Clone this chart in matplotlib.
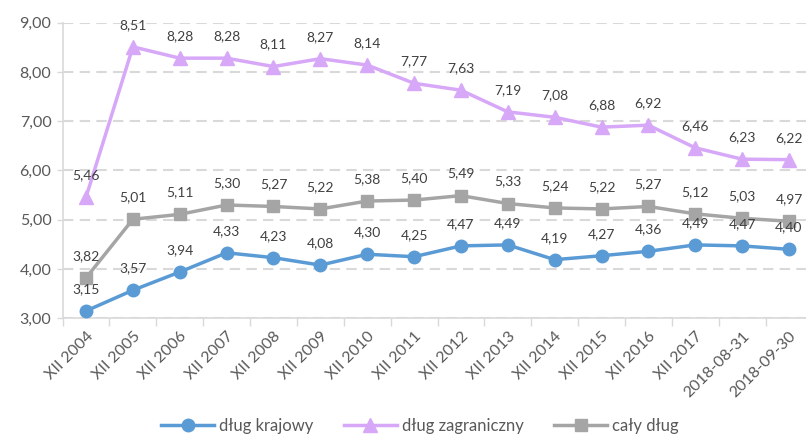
import matplotlib
matplotlib.use("Agg")
import matplotlib.pyplot as plt

categories = ["XII 2004", "XII 2005", "XII 2006", "XII 2007", "XII 2008", "XII 2009",
              "XII 2010", "XII 2011", "XII 2012", "XII 2013", "XII 2014", "XII 2015",
              "XII 2016", "XII 2017", "2018-08-31", "2018-09-30"]
krajowy = [3.15, 3.57, 3.94, 4.33, 4.23, 4.08, 4.30, 4.25, 4.47, 4.49, 4.19, 4.27, 4.36, 4.49, 4.47, 4.40]
zagraniczny = [5.46, 8.51, 8.28, 8.28, 8.11, 8.27, 8.14, 7.77, 7.63, 7.19, 7.08, 6.88, 6.92, 6.46, 6.23, 6.22]
caly = [3.82, 5.01, 5.11, 5.30, 5.27, 5.22, 5.38, 5.40, 5.49, 5.33, 5.24, 5.22, 5.27, 5.12, 5.03, 4.97]
series_names = ["dług krajowy", "dług zagraniczny", "cały dług"]

plt.rcParams['font.family'] = ['Lato', 'DejaVu Sans']

W, H = 806, 436
fig = plt.figure(figsize=(W / 100, H / 100), dpi=100)
left, right = 62.6, 812.4
top, bottom = 22.7, 318.3
ax = fig.add_axes([left / W, 1 - bottom / H, (right - left) / W, (bottom - top) / H])

x = list(range(len(categories)))
styles = [
    (krajowy, "#5B9BD5", "o", 9),
    (zagraniczny, "#D7A8F7", "^", 10),
    (caly, "#A5A5A5", "s", 9),
]
handles = []
for (vals, col, mk, ms), name in zip(styles, series_names):
    h, = ax.plot(x, vals, color=col, lw=2.5, marker=mk, markersize=ms,
                 markeredgecolor=col, markerfacecolor=col, label=name, zorder=3)
    handles.append(h)
    for xi, v in zip(x, vals):
        ax.annotate(f"{v:.2f}".replace(".", ","), (xi, v), xytext=(0, 22),
                    textcoords="offset pixels", ha="center", va="center",
                    fontsize=10, color="#404040", zorder=4)

ax.set_xlim(-0.5, len(categories) - 0.5)
ax.set_ylim(3, 9)
ax.set_yticks([3, 4, 5, 6, 7, 8, 9])
ax.set_yticklabels([f"{t:.2f}".replace(".", ",") for t in [3, 4, 5, 6, 7, 8, 9]],
                   fontsize=11.5, color="#595959")
ax.yaxis.grid(True, color="#D9D9D9", lw=1.5, ls=(0, (5, 3)))
ax.set_axisbelow(True)

ax.set_xticks([i - 0.5 for i in range(len(categories) + 1)])
ax.set_xticklabels([])
ax.set_xticks(x, minor=True)
ax.set_xticklabels(categories, minor=True, rotation=45, ha="right",
                   rotation_mode="anchor", fontsize=11.5, color="#595959")
ax.tick_params(axis="x", which="minor", length=0, pad=8)
ax.tick_params(axis="x", which="major", length=6, color="#D9D9D9", width=1)
ax.tick_params(axis="y", length=4, color="#D9D9D9", width=1, pad=4)

for s in ["top", "right"]:
    ax.spines[s].set_visible(False)
for s in ["left", "bottom"]:
    ax.spines[s].set_color("#D9D9D9")
    ax.spines[s].set_linewidth(1.2)

fig.legend(handles=handles, loc="center", bbox_to_anchor=(0.521, 10 / H), ncol=3,
           frameon=False, fontsize=12, handlelength=3.2, columnspacing=1.8,
           handletextpad=0.3, labelcolor="#595959", borderpad=0.1)

fig.savefig("out.png", dpi=100)
